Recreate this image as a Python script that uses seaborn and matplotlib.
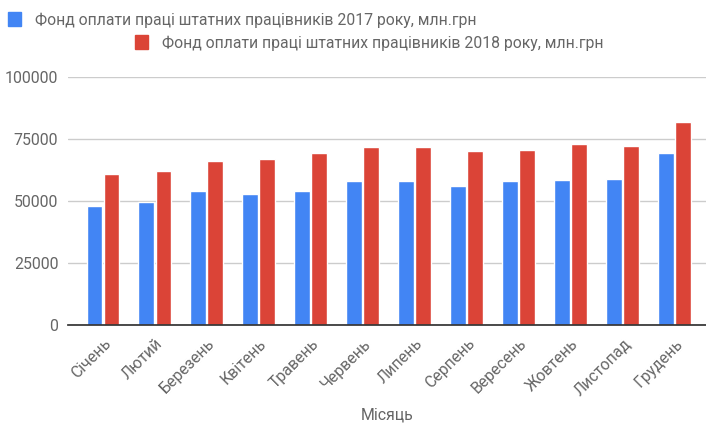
import matplotlib
matplotlib.use("Agg")
from matplotlib import pyplot as plt
from matplotlib.patches import Patch
import pandas as pd
import seaborn as sns

months = ["Січень", "Лютий", "Березень", "Квітень", "Травень", "Червень",
          "Липень", "Серпень", "Вересень", "Жовтень", "Листопад", "Грудень"]
fund_2017 = [47800, 49500, 54000, 52900, 54000, 58100,
             58100, 56000, 58100, 58600, 59000, 69200]
fund_2018 = [61000, 62000, 66000, 67100, 69200, 71700,
             71700, 70200, 70700, 72900, 72200, 82000]
label_2017 = "Фонд оплати праці штатних працівників 2017 року, млн.грн"
label_2018 = "Фонд оплати праці штатних працівників 2018 року, млн.грн"
yticks = [0, 25000, 50000, 75000, 100000]

df = pd.DataFrame({
    "month": months * 2,
    "value": fund_2017 + fund_2018,
    "series": [label_2017] * 12 + [label_2018] * 12,
})

sns.set_theme(style="white")
plt.rcParams["font.family"] = ["Roboto", "DejaVu Sans"]

fig = plt.figure(figsize=(7.06, 4.25), dpi=100)
ax = fig.add_axes([68 / 706, 1 - 325 / 425, 638 / 706, 248 / 425])

colors = {label_2017: "#4285F4", label_2018: "#DB4437"}
sns.barplot(data=df, x="month", y="value", hue="series", palette=colors,
            width=0.654, gap=0.06, ax=ax, legend=False, saturation=1)

ax.set_xlim(-0.673, 11.597)
ax.set_ylim(0, 100000)
ax.set_yticks(yticks)
ax.set_yticklabels([str(t) for t in yticks])
ax.yaxis.grid(True, color="#cccccc", linewidth=1)
ax.set_axisbelow(True)
for s in ["top", "right", "left"]:
    ax.spines[s].set_visible(False)
ax.spines["bottom"].set_color("#333333")
ax.tick_params(axis="both", length=0, colors="#666666", labelsize=11.4)
ax.tick_params(axis="y", pad=7)
ax.tick_params(axis="x", pad=8)
plt.setp(ax.get_xticklabels(), rotation=45, ha="right", rotation_mode="anchor")
ax.set_xlabel("")
ax.set_ylabel("")
# axis title at a fixed spot below the rotated labels
fig.text((68 + 706) / 2 / 706, 1 - 415 / 425, "Місяць", color="#666666",
         fontsize=11.4, ha="center", va="center")

# two legend rows like the wrapped legend of the original
leg_kw = dict(loc="center left", frameon=False, fontsize=11.3,
              handlelength=0.8, handleheight=1.0, handletextpad=0.9,
              labelcolor="#666666", borderpad=0, borderaxespad=0)
fig.legend(handles=[Patch(color="#4285F4", label=label_2017)],
           bbox_to_anchor=(8 / 706, 1 - 20 / 425), **leg_kw)
fig.legend(handles=[Patch(color="#DB4437", label=label_2018)],
           bbox_to_anchor=(135 / 706, 1 - 43 / 425), **leg_kw)

fig.savefig("out.png", dpi=100)
